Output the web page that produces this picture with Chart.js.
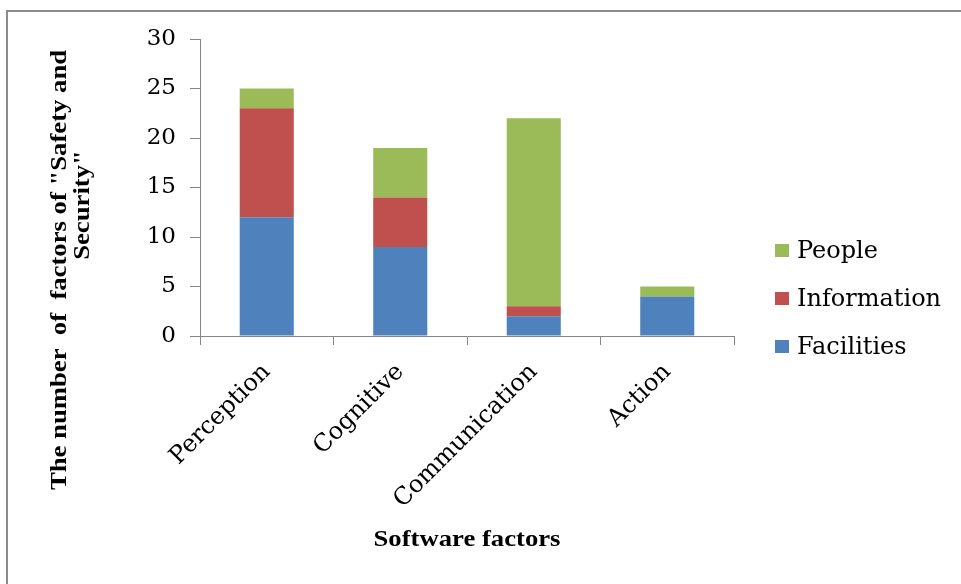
<!DOCTYPE html>
<html>
<head>
<meta charset="utf-8">
<script src="https://cdn.jsdelivr.net/npm/chart.js@4/dist/chart.umd.min.js"></script>
<style>
  html, body { margin: 0; padding: 0; background: #ffffff; }
  #wrap { width: 961px; height: 584px; position: relative; }
</style>
</head>
<body>
<div id="wrap"><canvas id="c" width="961" height="584"></canvas></div>
<script>
// ---- data ----
const categories = ['Perception', 'Cognitive', 'Communication', 'Action'];
const facilities = [12, 9, 2, 4];
const information = [11, 5, 1, 0];
const people = [2, 5, 19, 1];
const seriesNames = ['Facilities', 'Information', 'People'];
const yTickMin = 0, yTickMax = 30, yTickStep = 5;
const xTitle = 'Software factors';
const yTitleLines = ['The number  of  factors of "Safety and', 'Security"'];

const colors = ['#4F81BD', '#C0504D', '#9BBB59'];
const axisColor = '#868686';
const yTickFont = { family: '"DejaVu Serif", serif', size: 23 };
const xTickFont = { family: '"DejaVu Serif", serif', size: 24 };

const decor = {
  id: 'decor',
  beforeDraw(chart) {
    const ctx = chart.ctx;
    ctx.save();
    ctx.strokeStyle = '#8c8c8c';
    ctx.lineWidth = 2;
    ctx.beginPath();
    ctx.moveTo(7, 584);
    ctx.lineTo(7, 11);
    ctx.lineTo(961, 11);
    ctx.stroke();
    ctx.restore();
  },
  afterDraw(chart) {
    const ctx = chart.ctx;
    const area = chart.chartArea;
    ctx.save();
    ctx.fillStyle = '#000';
    ctx.font = 'bold 23px "Liberation Serif", serif';
    ctx.textAlign = 'center';
    ctx.textBaseline = 'middle';
    // x title
    ctx.save();
    ctx.translate((area.left + area.right) / 2, 540);
    ctx.scale(1.16, 1);
    ctx.fillText(xTitle, 0, 0);
    ctx.restore();
    // y title (two lines)
    const yPos = [[60, 270], [83, 205]];
    yTitleLines.forEach((t, i) => {
      ctx.save();
      ctx.translate(yPos[i][0], yPos[i][1]);
      ctx.rotate(-Math.PI / 2);
      ctx.scale(1.16, 1);
      ctx.fillText(t, 0, 0);
      ctx.restore();
    });
    // legend (reversed order)
    ctx.font = '24px "DejaVu Serif", serif';
    ctx.textAlign = 'left';
    const ds = chart.data.datasets;
    const startY = 250.5, gap = 48;
    for (let k = 0; k < ds.length; k++) {
      const d = ds[ds.length - 1 - k];
      const cy = startY + k * gap;
      ctx.fillStyle = d.backgroundColor;
      ctx.fillRect(775, cy - 6.5, 14, 13);
      ctx.fillStyle = '#000';
      ctx.fillText(d.label, 797, cy + 1);
    }
    ctx.restore();
  }
};

new Chart(document.getElementById('c'), {
  type: 'bar',
  data: {
    labels: categories,
    datasets: [
      { label: seriesNames[0], data: facilities, backgroundColor: colors[0] },
      { label: seriesNames[1], data: information, backgroundColor: colors[1] },
      { label: seriesNames[2], data: people, backgroundColor: colors[2] }
    ]
  },
  options: {
    responsive: false,
    animation: false,
    devicePixelRatio: 1,
    layout: { padding: { top: 39, right: 227, left: 0, bottom: 0 } },
    plugins: { legend: { display: false }, tooltip: { enabled: false } },
    datasets: { bar: { categoryPercentage: 1, barPercentage: 0.405, borderWidth: 0 } },
    scales: {
      x: {
        stacked: true,
        afterFit(s) { s.height = 248; },
        grid: { offset: true, drawOnChartArea: false, drawTicks: true, tickLength: 9, color: axisColor },
        border: { color: axisColor, width: 1 },
        ticks: { color: '#000', font: xTickFont, minRotation: 45, maxRotation: 45, padding: 13, autoSkip: false }
      },
      y: {
        stacked: true,
        min: yTickMin, max: yTickMax,
        afterFit(s) { s.width = 200; },
        grid: { drawOnChartArea: false, drawTicks: true, tickLength: 10, color: axisColor },
        border: { color: axisColor, width: 1 },
        ticks: { stepSize: yTickStep, color: '#000', font: yTickFont, padding: 14 }
      }
    }
  },
  plugins: [decor]
});
</script>
</body>
</html>
